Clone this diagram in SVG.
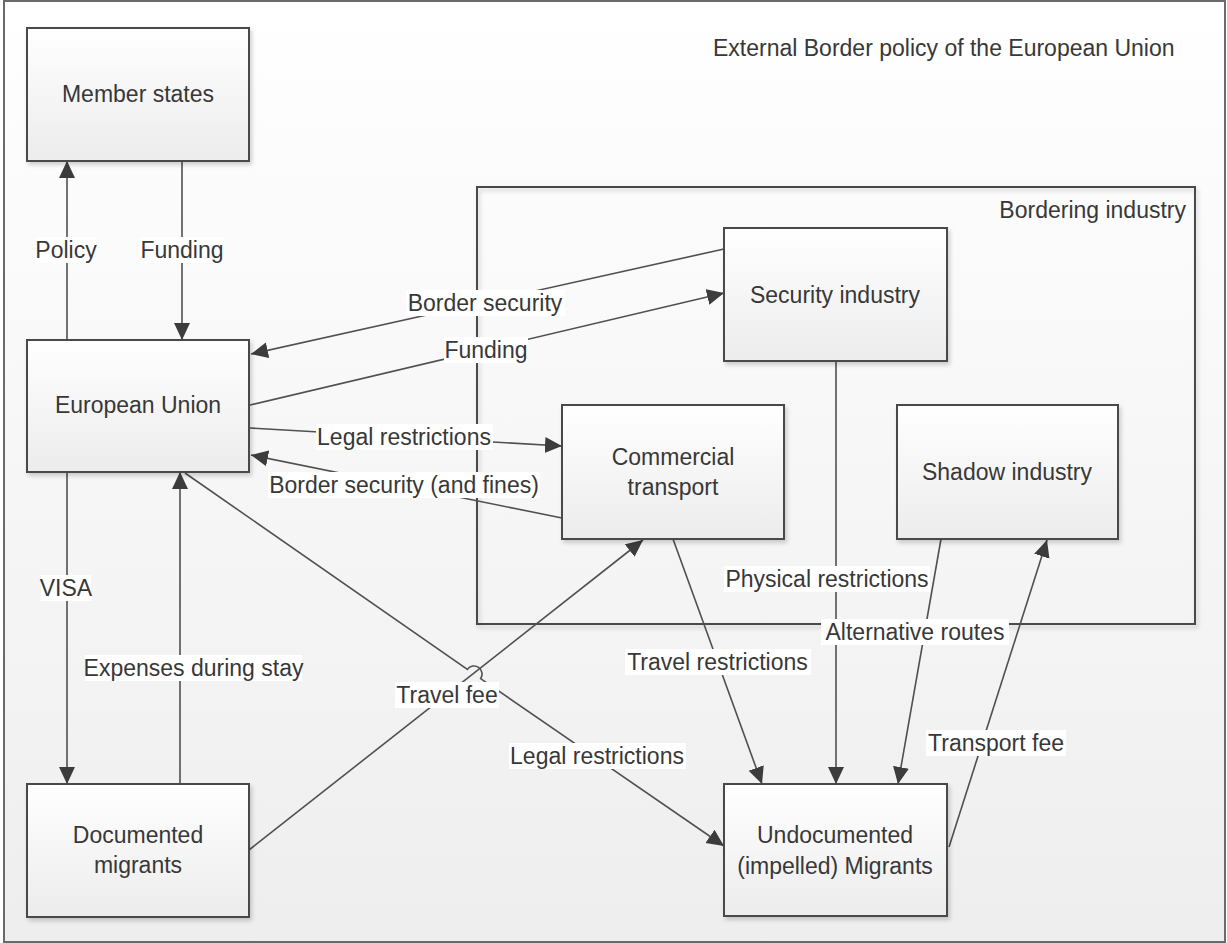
<svg xmlns="http://www.w3.org/2000/svg" width="1227" height="943" viewBox="0 0 1227 943">
<style>
text{font-family:"Liberation Sans",Arial,sans-serif;font-size:23px;fill:#383838}
.box{fill:url(#boxg);stroke:#4a4a4a;stroke-width:2;filter:url(#sh)}
.ln{fill:none;stroke:#505050;stroke-width:1.6}
.arr{marker-end:url(#ah)}
.lb{fill:#fff}
.c{text-anchor:middle}
</style>
<defs>
<linearGradient id="bg" x1="0" y1="0" x2="0" y2="1"><stop offset="0" stop-color="#ffffff"/><stop offset="1" stop-color="#eeeeee"/></linearGradient>
<linearGradient id="boxg" x1="0" y1="0" x2="0" y2="1"><stop offset="0" stop-color="#ffffff"/><stop offset="1" stop-color="#ececec"/></linearGradient>
<filter id="sh" x="-10%" y="-10%" width="125%" height="125%"><feDropShadow dx="2" dy="3" stdDeviation="2" flood-color="#000" flood-opacity="0.18"/></filter>
<marker id="ah" markerUnits="userSpaceOnUse" markerWidth="18" markerHeight="18" refX="17" refY="8" orient="auto"><path d="M0,0 L17,8 L0,16 z" fill="#3c3c3c"/></marker>
</defs>
<rect x="4" y="1" width="1221" height="941" fill="url(#bg)" stroke="#6a6a6a" stroke-width="2"/>
<text x="713" y="56">External Border policy of the European Union</text>

<g id="bordering-industry">
<rect x="477" y="187" width="718" height="437" fill="none" stroke="#4a4a4a" stroke-width="2" filter="url(#sh)"/>
<text x="1186" y="218" text-anchor="end">Bordering industry</text>
</g>

<g id="connectors">
<line class="ln arr" x1="67" y1="340" x2="67" y2="161"/>
<line class="ln arr" x1="182" y1="161" x2="182" y2="340"/>
<line class="ln arr" x1="724" y1="249" x2="251" y2="354"/>
<line class="ln arr" x1="250" y1="405" x2="724" y2="293"/>
<line class="ln arr" x1="250" y1="428" x2="562" y2="446"/>
<line class="ln arr" x1="562" y1="518" x2="251" y2="455"/>
<line class="ln arr" x1="67" y1="472" x2="67" y2="784"/>
<line class="ln arr" x1="180" y1="784" x2="180" y2="472"/>
<line class="ln arr" x1="249" y1="850" x2="643" y2="540"/>
<path class="ln arr" d="M185,473 L467.4,669.4 A8,8 0 0 1 480.6,678.6 L724,846"/>
<line class="ln arr" x1="673" y1="539" x2="762" y2="784"/>
<line class="ln arr" x1="836" y1="361" x2="836" y2="784"/>
<line class="ln arr" x1="941" y1="539" x2="898" y2="784"/>
<line class="ln arr" x1="949" y1="847" x2="1047" y2="540"/>
</g>

<g id="labels">
<rect class="lb" x="36" y="237" width="60" height="26"/><text class="c" x="66" y="258">Policy</text>
<rect class="lb" x="140" y="237" width="84" height="26"/><text class="c" x="182" y="258">Funding</text>
<rect class="lb" x="406" y="290" width="159" height="26"/><text class="c" x="485" y="311">Border security</text>
<rect class="lb" x="444" y="337" width="84" height="26"/><text class="c" x="486" y="358">Funding</text>
<rect class="lb" x="316" y="424" width="177" height="26"/><text class="c" x="404" y="445">Legal restrictions</text>
<rect class="lb" x="268" y="472" width="272" height="26"/><text class="c" x="404" y="493">Border security (and fines)</text>
<rect class="lb" x="41" y="575" width="50" height="26"/><text class="c" x="66" y="596">VISA</text>
<rect class="lb" x="85" y="655" width="217" height="26"/><text class="c" x="193.5" y="676">Expenses during stay</text>
<rect class="lb" x="395" y="682" width="104" height="26"/><text class="c" x="447" y="703">Travel fee</text>
<rect class="lb" x="509" y="743" width="177" height="26"/><text class="c" x="597" y="764">Legal restrictions</text>
<rect class="lb" x="625" y="649" width="186" height="26"/><text class="c" x="717.5" y="670">Travel restrictions</text>
<rect class="lb" x="724" y="566" width="206" height="26"/><text class="c" x="827" y="587">Physical restrictions</text>
<rect class="lb" x="821" y="619" width="188" height="26"/><text class="c" x="915" y="640">Alternative routes</text>
<rect class="lb" x="926" y="730" width="140" height="26"/><text class="c" x="996" y="751">Transport fee</text>
</g>

<g id="member-states"><rect class="box" x="27" y="28" width="222" height="133"/><text class="c" x="138" y="102">Member states</text></g>
<g id="european-union"><rect class="box" x="27" y="340" width="222" height="132"/><text class="c" x="138" y="413">European Union</text></g>
<g id="documented-migrants"><rect class="box" x="27" y="784" width="222" height="133"/><text class="c" x="138" y="843">Documented</text><text class="c" x="138" y="873">migrants</text></g>
<g id="security-industry"><rect class="box" x="724" y="228" width="223" height="133"/><text class="c" x="835" y="303">Security industry</text></g>
<g id="commercial-transport"><rect class="box" x="562" y="405" width="222" height="134"/><text class="c" x="673" y="465">Commercial</text><text class="c" x="673" y="495">transport</text></g>
<g id="shadow-industry"><rect class="box" x="897" y="405" width="221" height="134"/><text class="c" x="1007" y="480">Shadow industry</text></g>
<g id="undocumented-migrants"><rect class="box" x="724" y="784" width="223" height="132"/><text class="c" x="835" y="843">Undocumented</text><text class="c" x="835" y="874">(impelled) Migrants</text></g>
</svg>
